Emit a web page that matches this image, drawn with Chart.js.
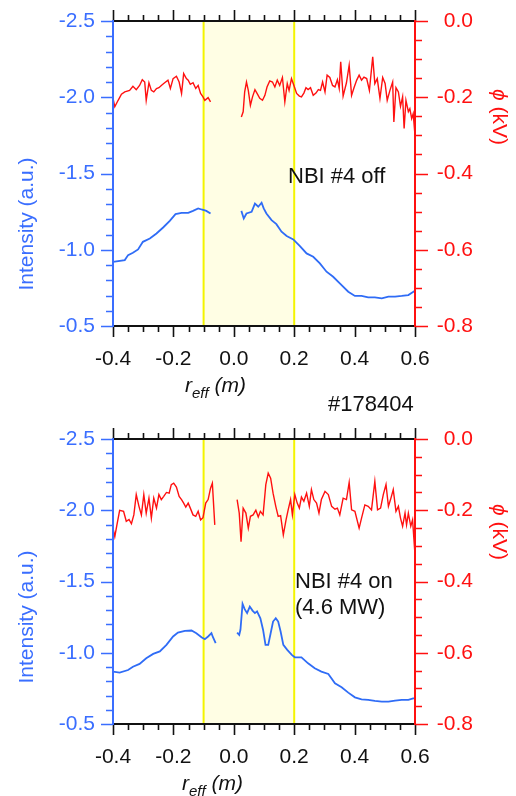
<!DOCTYPE html>
<html>
<head>
<meta charset="utf-8">
<script src="https://cdn.jsdelivr.net/npm/chart.js@4"></script>
<style>
html, body { margin: 0; padding: 0; background: #fff; }
#wrap { position: relative; width: 516px; height: 796px; overflow: hidden; }
.box { position: absolute; left: 0; width: 516px; }
</style>
</head>
<body>
<div id="wrap">
  <div class="box" style="top:0;height:415px"><canvas id="offChart"></canvas></div>
  <div class="box" style="top:400px;height:396px"><canvas id="onChart"></canvas></div>
</div>
<script>
// ticks
const xTicks = [-0.4, -0.2, 0.0, 0.2, 0.4, 0.6];
const intTicks = [-2.5, -2.0, -1.5, -1.0, -0.5];
const phiTicks = [0.0, -0.2, -0.4, -0.6, -0.8];
const shadeFrom = -0.1, shadeTo = 0.2;

// NBI #4 off : potential (kV), null = gap
const rOffPhi = [-0.400,-0.394,-0.383,-0.372,-0.361,-0.345,-0.334,-0.323,-0.312,-0.303,-0.295,-0.290,-0.281,-0.273,-0.265,-0.256,-0.248,-0.240,-0.229,-0.218,-0.210,-0.201,-0.190,-0.181,-0.173,-0.166,-0.157,-0.151,-0.144,-0.135,-0.126,-0.118,-0.110,-0.102,-0.096,-0.085,-0.077,
  -0.020,
  0.025,0.031,0.036,0.042,0.048,0.055,0.062,0.070,0.077,0.086,0.095,0.103,0.110,0.119,0.128,0.136,0.144,0.152,0.161,0.169,0.177,0.183,0.191,0.199,0.208,0.217,0.224,0.232,0.239,0.246,0.254,0.263,0.272,0.280,0.287,0.294,0.302,0.309,0.318,0.327,0.335,0.343,0.349,0.354,0.362,0.373,0.382,0.390,0.398,0.407,0.415,0.423,0.431,0.440,0.449,0.460,0.467,0.475,0.484,0.493,0.501,0.508,0.517,0.526,0.530,0.537,0.545,0.552,0.559,0.564,0.570,0.578,0.583,0.589,0.594,0.600];
const phiOff = [-0.203,-0.225,-0.208,-0.192,-0.186,-0.182,-0.171,-0.180,-0.169,-0.154,-0.160,-0.208,-0.162,-0.182,-0.186,-0.177,-0.175,-0.169,-0.162,-0.155,-0.177,-0.151,-0.145,-0.160,-0.190,-0.138,-0.151,-0.155,-0.166,-0.162,-0.177,-0.169,-0.190,-0.199,-0.208,-0.201,-0.212,
  null,
  -0.252,-0.238,-0.186,-0.160,-0.182,-0.221,-0.199,-0.180,-0.190,-0.203,-0.208,-0.195,-0.173,-0.157,-0.160,-0.173,-0.155,-0.169,-0.148,-0.212,-0.164,-0.182,-0.151,-0.169,-0.190,-0.197,-0.199,-0.189,-0.175,-0.180,-0.175,-0.195,-0.189,-0.180,-0.182,-0.160,-0.186,-0.142,-0.148,-0.169,-0.173,-0.154,-0.177,-0.107,-0.197,-0.162,-0.116,-0.195,-0.175,-0.155,-0.142,-0.155,-0.147,-0.151,-0.182,-0.094,-0.164,-0.151,-0.203,-0.148,-0.164,-0.208,-0.182,-0.160,-0.265,-0.175,-0.186,-0.224,-0.199,-0.282,-0.208,-0.238,-0.230,-0.256,-0.243,-0.300];

// NBI #4 off : intensity (a.u.)
const rOffInt = [-0.400,-0.361,-0.350,-0.334,-0.317,-0.301,-0.278,-0.256,-0.234,-0.212,-0.193,-0.173,-0.151,-0.135,-0.118,-0.107,-0.091,-0.077,
  -0.020,
  0.025,0.033,0.042,0.059,0.070,0.081,0.092,0.099,0.108,0.125,0.141,0.158,0.175,0.197,0.219,0.241,0.263,0.285,0.307,0.329,0.351,0.379,0.401,0.423,0.445,0.467,0.490,0.512,0.534,0.556,0.578,0.600];
const intOff = [-0.921,-0.932,-0.965,-0.980,-1.002,-1.052,-1.074,-1.107,-1.146,-1.190,-1.234,-1.242,-1.242,-1.255,-1.271,-1.264,-1.255,-1.238,
  null,
  -1.255,-1.205,-1.238,-1.249,-1.303,-1.282,-1.308,-1.271,-1.238,-1.194,-1.168,-1.118,-1.090,-1.068,-1.024,-0.976,-0.954,-0.910,-0.856,-0.823,-0.779,-0.725,-0.697,-0.697,-0.688,-0.688,-0.681,-0.692,-0.692,-0.697,-0.703,-0.731];

// NBI #4 on (4.6 MW) : potential (kV)
const rOnPhi = [-0.400,-0.394,-0.387,-0.378,-0.365,-0.356,-0.347,-0.339,-0.331,-0.323,-0.314,-0.306,-0.298,-0.290,-0.281,-0.273,-0.265,-0.256,-0.248,-0.240,-0.232,-0.223,-0.214,-0.207,-0.199,-0.190,-0.181,-0.173,-0.166,-0.159,-0.151,-0.144,-0.135,-0.126,-0.118,-0.110,-0.102,-0.093,-0.085,-0.077,-0.071,-0.063,
  -0.025,
  0.011,0.018,0.024,0.031,0.040,0.048,0.055,0.064,0.073,0.081,0.088,0.097,0.106,0.114,0.122,0.130,0.139,0.147,0.155,0.164,0.173,0.180,0.188,0.194,0.202,0.210,0.217,0.224,0.232,0.241,0.250,0.257,0.265,0.274,0.282,0.290,0.302,0.313,0.324,0.335,0.343,0.351,0.362,0.373,0.382,0.390,0.401,0.415,0.423,0.434,0.445,0.456,0.467,0.476,0.486,0.495,0.504,0.512,0.519,0.528,0.537,0.545,0.552,0.559,0.567,0.572,0.578,0.586,0.592,0.600];
const phiOn = [-0.250,-0.274,-0.241,-0.200,-0.203,-0.231,-0.226,-0.238,-0.213,-0.156,-0.189,-0.213,-0.156,-0.208,-0.166,-0.222,-0.166,-0.194,-0.156,-0.170,-0.161,-0.150,-0.152,-0.128,-0.124,-0.135,-0.161,-0.170,-0.180,-0.191,-0.180,-0.194,-0.213,-0.217,-0.203,-0.227,-0.221,-0.180,-0.170,-0.138,-0.124,-0.241,
  null,
  -0.170,-0.208,-0.288,-0.194,-0.208,-0.250,-0.217,-0.213,-0.200,-0.219,-0.203,-0.213,-0.128,-0.096,-0.110,-0.152,-0.189,-0.217,-0.215,-0.269,-0.227,-0.199,-0.170,-0.213,-0.156,-0.180,-0.194,-0.163,-0.175,-0.152,-0.189,-0.142,-0.170,-0.180,-0.208,-0.170,-0.147,-0.156,-0.189,-0.197,-0.194,-0.213,-0.166,-0.170,-0.122,-0.199,-0.203,-0.250,-0.222,-0.185,-0.189,-0.199,-0.119,-0.199,-0.194,-0.156,-0.128,-0.189,-0.170,-0.142,-0.203,-0.189,-0.222,-0.245,-0.208,-0.241,-0.208,-0.245,-0.227,-0.325];

// NBI #4 on (4.6 MW) : intensity (a.u.)
const rOnInt = [-0.400,-0.378,-0.350,-0.334,-0.312,-0.290,-0.267,-0.245,-0.223,-0.201,-0.185,-0.162,-0.140,-0.124,-0.107,-0.096,-0.085,-0.074,-0.069,-0.060,
  -0.025,
  0.011,0.018,0.022,0.029,0.036,0.044,0.053,0.062,0.070,0.077,0.088,0.097,0.105,0.114,0.122,0.130,0.139,0.147,0.155,0.164,0.177,0.192,0.202,0.224,0.246,0.268,0.290,0.313,0.335,0.357,0.379,0.401,0.423,0.445,0.467,0.490,0.512,0.534,0.556,0.578,0.594,0.600];
const intOn = [-0.868,-0.861,-0.879,-0.902,-0.922,-0.961,-0.992,-1.009,-1.055,-1.114,-1.142,-1.153,-1.156,-1.137,-1.109,-1.095,-1.114,-1.137,-1.109,-1.067,
  null,
  -1.142,-1.126,-1.161,-1.343,-1.306,-1.278,-1.324,-1.296,-1.278,-1.290,-1.242,-1.160,-1.055,-1.055,-1.137,-1.219,-1.242,-1.219,-1.149,-1.055,-1.020,-0.985,-0.968,-0.968,-0.926,-0.891,-0.868,-0.851,-0.786,-0.758,-0.720,-0.687,-0.673,-0.669,-0.662,-0.657,-0.657,-0.664,-0.669,-0.669,-0.680,-0.680];

const BLUE = '#2f6cf6';
const AXIS_BLUE = '#3a6eff';
const RED = '#ff1010';
const FONT = '"Liberation Sans", Arial, sans-serif';

Chart.defaults.font.family = FONT;
Chart.defaults.font.size = 21;

function pairs(xs, ys) {
    return xs.map((x, i) => ({ x: x, y: ys[i] }));
}

// frame, shaded box, tick marks and free texts
const framePlugin = {
    id: 'frame',
    beforeDatasetsDraw(chart) {
        const { ctx, chartArea: a, scales: { x } } = chart;
        const x0 = x.getPixelForValue(shadeFrom);
        const x1 = x.getPixelForValue(shadeTo);
        ctx.save();
        ctx.fillStyle = '#fffee4';
        ctx.fillRect(x0, a.top, x1 - x0, a.bottom - a.top);
        ctx.strokeStyle = '#f4f400';
        ctx.lineWidth = 2;
        ctx.strokeRect(x0, a.top, x1 - x0, a.bottom - a.top);
        ctx.restore();
    },
    afterDatasetsDraw(chart) {
        const { ctx, chartArea: a, scales: { x, yI, yP } } = chart;
        ctx.save();
        ctx.lineWidth = 1.6;

        // x ticks, bottom and top
        ctx.strokeStyle = '#111';
        ctx.beginPath();
        for (let k = 0; k <= 20; k++) {
            const v = -0.4 + k * 0.05;
            const px = Math.round(x.getPixelForValue(v)) + 0.5;
            const len = k % 4 === 0 ? 11 : 6;
            ctx.moveTo(px, a.bottom); ctx.lineTo(px, a.bottom + len);
            ctx.moveTo(px, a.top); ctx.lineTo(px, a.top - len);
        }
        ctx.stroke();

        // left ticks
        ctx.strokeStyle = AXIS_BLUE;
        ctx.beginPath();
        for (let k = 0; k <= 20; k++) {
            const v = -2.5 + k * 0.1;
            const py = Math.round(yI.getPixelForValue(v)) + 0.5;
            const len = k % 5 === 0 ? 12 : 7;
            ctx.moveTo(a.left, py); ctx.lineTo(a.left - len, py);
        }
        ctx.stroke();

        // right ticks
        ctx.strokeStyle = RED;
        ctx.beginPath();
        for (let k = 0; k <= 16; k++) {
            const v = -k * 0.05;
            const py = Math.round(yP.getPixelForValue(v)) + 0.5;
            const len = k % 4 === 0 ? 13 : 7;
            ctx.moveTo(a.right, py); ctx.lineTo(a.right + len, py);
        }
        ctx.stroke();

        // frame
        ctx.lineWidth = 2;
        ctx.strokeStyle = '#111';
        ctx.beginPath();
        ctx.moveTo(a.left, a.top); ctx.lineTo(a.right, a.top);
        ctx.moveTo(a.left, a.bottom); ctx.lineTo(a.right, a.bottom);
        ctx.stroke();
        ctx.strokeStyle = AXIS_BLUE;
        ctx.beginPath();
        ctx.moveTo(a.left, a.top - 1); ctx.lineTo(a.left, a.bottom + 1);
        ctx.stroke();
        ctx.strokeStyle = RED;
        ctx.beginPath();
        ctx.moveTo(a.right, a.top - 1); ctx.lineTo(a.right, a.bottom + 1);
        ctx.stroke();
        ctx.restore();
    },
    afterDraw(chart, args, opts) {
        const { ctx, chartArea: a } = chart;
        ctx.save();
        ctx.textBaseline = 'middle';

        // left title
        ctx.save();
        ctx.translate(27, opts.leftTitleY);
        ctx.rotate(-Math.PI / 2);
        ctx.fillStyle = AXIS_BLUE;
        ctx.font = '21px ' + FONT;
        ctx.textAlign = 'center';
        ctx.fillText('Intensity (a.u.)', 0, 0);
        ctx.restore();

        // right title
        ctx.save();
        ctx.translate(499, opts.rightTitleY);
        ctx.rotate(Math.PI / 2);
        ctx.fillStyle = RED;
        ctx.font = 'italic 21px ' + FONT;
        const w1 = ctx.measureText('ϕ').width;
        ctx.font = '21px ' + FONT;
        const w2 = ctx.measureText(' (kV)').width;
        ctx.textAlign = 'left';
        ctx.font = 'italic 21px ' + FONT;
        ctx.fillText('ϕ', -(w1 + w2) / 2, 0);
        ctx.font = '21px ' + FONT;
        ctx.fillText(' (kV)', -(w1 + w2) / 2 + w1, 0);
        ctx.restore();

        // x title: r_eff (m)
        ctx.fillStyle = '#111';
        ctx.textBaseline = 'alphabetic';
        ctx.textAlign = 'left';
        let tx = opts.xTitleX;
        const ty = a.bottom + 66;
        ctx.font = 'italic 21px ' + FONT;
        ctx.fillText('r', tx, ty);
        tx += ctx.measureText('r').width;
        ctx.font = 'italic 15px ' + FONT;
        ctx.fillText('eff', tx, ty + 6);
        tx += ctx.measureText('eff').width;
        ctx.font = 'italic 21px ' + FONT;
        ctx.fillText(' (m)', tx, ty);

        // notes
        ctx.font = '22px ' + FONT;
        ctx.textBaseline = 'middle';
        (opts.notes || []).forEach(n => {
            ctx.fillText(n.text, n.x, n.y);
        });
        ctx.restore();
    }
};

function noPad(s) {
    s.paddingTop = 0;
    s.paddingBottom = 0;
    s.paddingLeft = 0;
    s.paddingRight = 0;
}

function makeChart(id, plotTop, plotBottom, height, phiX, phiY, intX, intY, textOpts) {
    const ctx = document.getElementById(id).getContext('2d');
    return new Chart(ctx, {
        type: 'line',
        data: {
            datasets: [
                {
                    data: pairs(phiX, phiY),
                    yAxisID: 'yP',
                    borderColor: RED,
                    borderWidth: 1.4,
                    pointRadius: 0,
                    tension: 0,
                    spanGaps: false
                },
                {
                    data: pairs(intX, intY),
                    yAxisID: 'yI',
                    borderColor: BLUE,
                    borderWidth: 1.8,
                    pointRadius: 0,
                    tension: 0,
                    spanGaps: false
                }
            ]
        },
        options: {
            responsive: true,
            maintainAspectRatio: false,
            animation: false,
            events: [],
            layout: { padding: { top: plotTop, right: 43, left: 0, bottom: 0 } },
            plugins: {
                legend: { display: false },
                tooltip: { enabled: false },
                frame: textOpts
            },
            scales: {
                x: {
                    type: 'linear',
                    min: -0.4,
                    max: 0.6,
                    afterBuildTicks: s => { s.ticks = xTicks.map(v => ({ value: v })); },
                    afterFit: s => { s.height = height - plotBottom; noPad(s); },
                    grid: { display: false, drawTicks: false },
                    border: { display: false },
                    ticks: {
                        color: '#111',
                        padding: 21,
                        maxRotation: 0,
                        callback: v => v.toFixed(1)
                    }
                },
                yI: {
                    type: 'linear',
                    position: 'left',
                    reverse: true,
                    min: -2.5,
                    max: -0.5,
                    afterBuildTicks: s => { s.ticks = intTicks.map(v => ({ value: v })); },
                    afterFit: s => { s.width = 113; noPad(s); },
                    grid: { display: false, drawTicks: false },
                    border: { display: false },
                    ticks: {
                        color: AXIS_BLUE,
                        padding: 18,
                        callback: v => v.toFixed(1)
                    }
                },
                yP: {
                    type: 'linear',
                    position: 'right',
                    min: -0.8,
                    max: 0.0,
                    afterBuildTicks: s => { s.ticks = phiTicks.map(v => ({ value: v })); },
                    afterFit: s => { s.width = 58; noPad(s); },
                    grid: { display: false, drawTicks: false },
                    border: { display: false },
                    ticks: {
                        color: RED,
                        crossAlign: 'far',
                        callback: v => (Math.abs(v) < 1e-9 ? 0 : v).toFixed(1)
                    }
                }
            }
        },
        plugins: [framePlugin]
    });
}

makeChart('offChart', 21, 326, 415, rOffPhi, phiOff, rOffInt, intOff, {
    leftTitleY: 224,
    rightTitleY: 117,
    xTitleX: 185,
    notes: [
        { text: 'NBI #4 off', x: 288, y: 177 },
        { text: '#178404', x: 328, y: 405 }
    ]
});

makeChart('onChart', 39, 324, 396, rOnPhi, phiOn, rOnInt, intOn, {
    leftTitleY: 217,
    rightTitleY: 132,
    xTitleX: 182,
    notes: [
        { text: 'NBI #4 on', x: 295, y: 182 },
        { text: '(4.6 MW)', x: 295, y: 208 }
    ]
});
</script>
</body>
</html>
